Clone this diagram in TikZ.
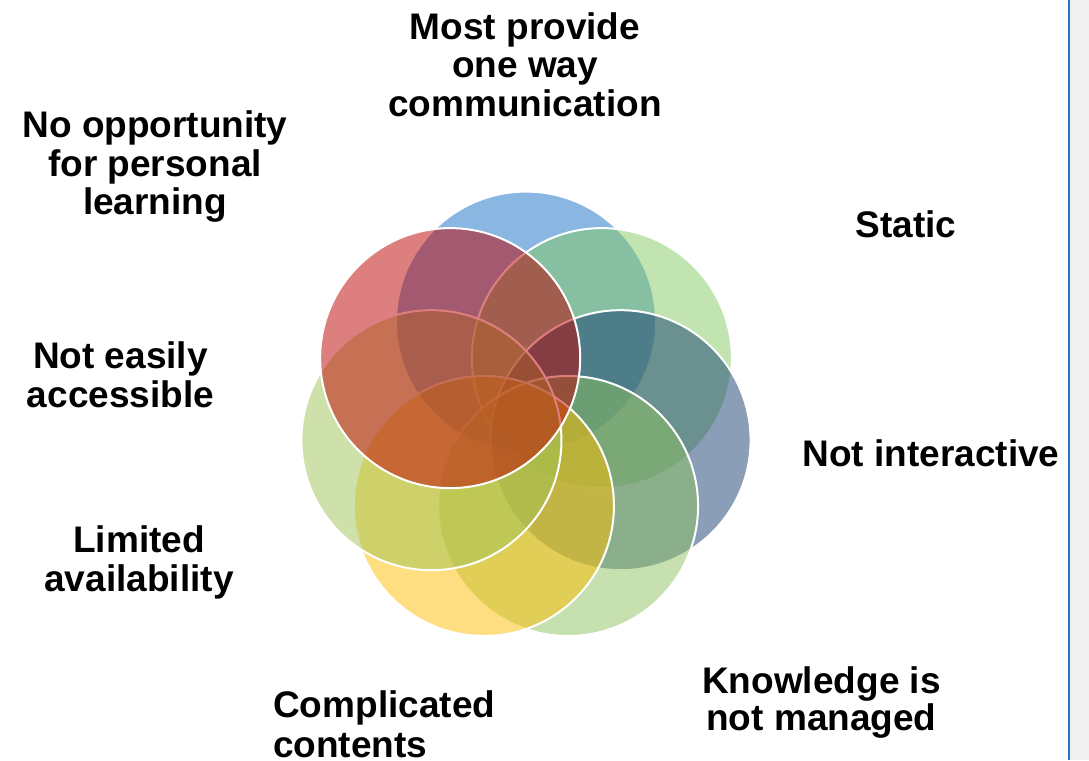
\documentclass[tikz,border=0pt]{standalone}
\usepackage{fontspec}
\setmainfont{Liberation Sans}
\usetikzlibrary{calc}

\definecolor{ringblue}{RGB}{21,109,197}
\definecolor{ringlime}{RGB}{131,201,97}
\definecolor{ringslate}{RGB}{21,61,113}
\definecolor{ringsage}{RGB}{141,193,95}
\definecolor{ringgold}{RGB}{253,189,1}
\definecolor{ringolive}{RGB}{159,195,85}
\definecolor{ringred}{RGB}{190,0,0}
\definecolor{edgeblue}{RGB}{45,115,195}
\definecolor{panelgray}{RGB}{240,240,240}

\begin{document}
\begin{tikzpicture}[x=1pt, y=1pt, ring/.style = {draw=white, line width=2pt, circle, minimum size=260pt, inner sep=0pt, fill opacity=0.5}, tag/.style = {font=\bfseries\fontsize{37}{38.5}\selectfont, align=center, inner sep=0pt}]
    \useasboundingbox (0,0) rectangle (1089,760);
    \fill[panelgray] (1070,0) rectangle (1089,760);
    \draw[edgeblue, line width=2.5pt] (1069,0) -- (1069,760);

    \coordinate (hub) at (526,341.4);
    \node[ring, fill=ringblue] (ring1) at ($(hub)+(90:97)$) {};
    \node[ring, fill=ringlime] (ring2) at ($(hub)+(38.57:97)$) {};
    \node[ring, fill=ringslate] (ring3) at ($(hub)+(-12.86:97)$) {};
    \node[ring, fill=ringsage] (ring4) at ($(hub)+(-64.29:97)$) {};
    \node[ring, fill=ringgold] (ring5) at ($(hub)+(-115.71:97)$) {};
    \node[ring, fill=ringolive] (ring6) at ($(hub)+(-167.14:97)$) {};
    \node[ring, fill=ringred] (ring7) at ($(hub)+(141.43:97)$) {};

    \node[tag, anchor=north] (oneway) at (525,748) {Most provide\\one way\\communication};
    \node[tag, anchor=base] (static) at (906,522) {Static};
    \node[tag, anchor=base] (interact) at (931,293) {Not interactive};
    \node[tag, anchor=north] (managed) at (821.5,93.5) {Knowledge is\\[-1.5pt]not managed};
    \node[tag, anchor=north west, align=left] (complex) at (273,69.5) {Complicated\\[1pt]contents};
    \node[tag, anchor=north] (avail) at (139,234.5) {Limited\\availability};
    \node[tag, anchor=north] (access) at (120.5,418.5) {Not easily\\accessible};
    \node[tag, anchor=north] (personal) at (155,649.5) {No opportunity\\for personal\\learning};
  \end{tikzpicture}
\end{document}
